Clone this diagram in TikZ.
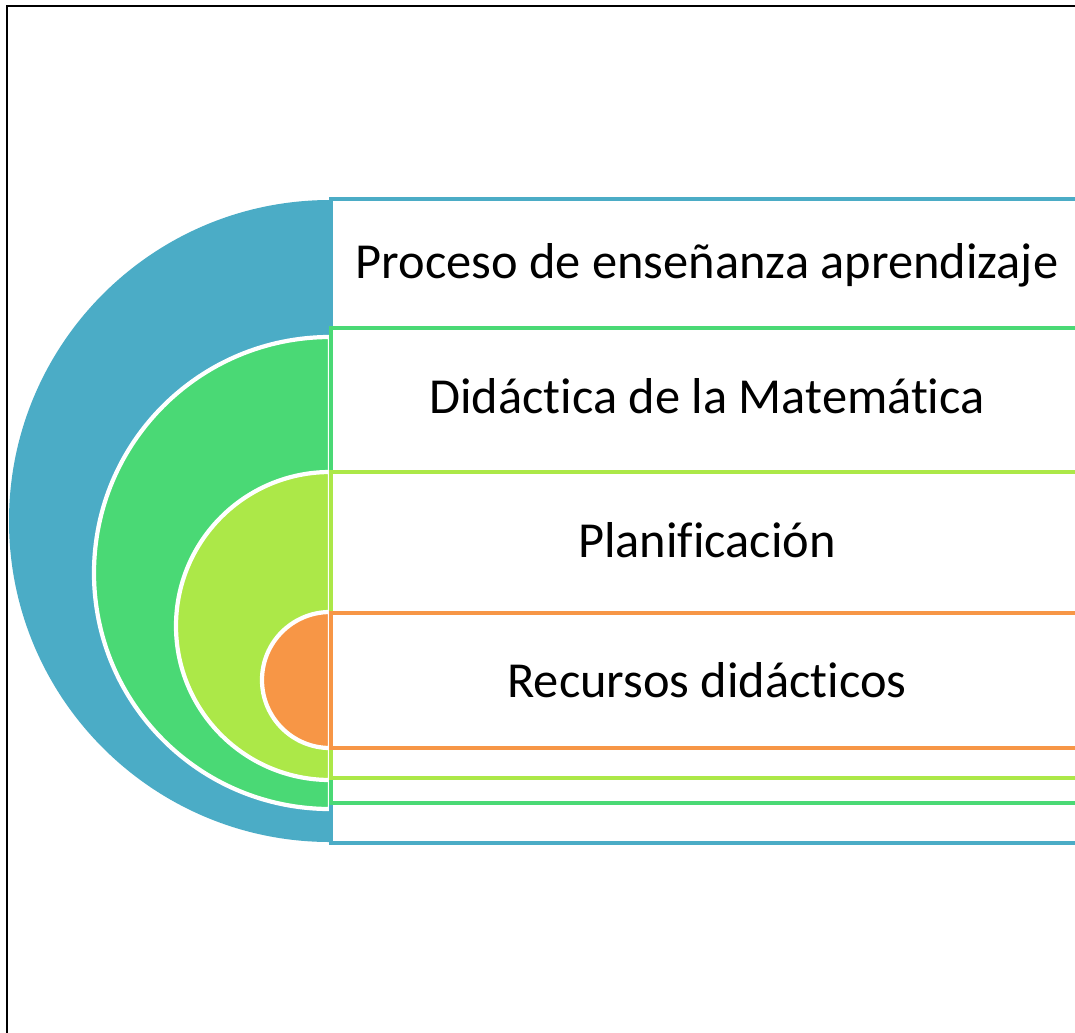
\documentclass[tikz,border=0pt]{standalone}
\usepackage{fontspec}
\setmainfont[Ligatures={NoCommon,NoRare,NoDiscretionary}]{Carlito}
\definecolor{cblue}{HTML}{4BACC6}
\definecolor{cgreen}{HTML}{4AD975}
\definecolor{clime}{HTML}{ACE848}
\definecolor{corange}{HTML}{F79646}
\tikzset{
  half/.style={line width=2.4pt, draw=white},
  band/.style={line width=2.3pt, fill=white},
  lbl/.style={font=\fontsize{28.7}{32}\selectfont, text=black, inner sep=0pt, anchor=center}
}
\begin{document}
\begin{tikzpicture}[x=0.02cm,y=-0.02cm]
\useasboundingbox (0,0) rectangle (1075,1032);
\clip (0,0) rectangle (1075,1032);
\fill[white] (0,0) rectangle (1075,1032);
% frame
\draw[line width=1.5pt, black] (7,1040) -- (7,6) -- (1080,6);
% half discs
\fill[cblue] (330,200) arc[start angle=-90, end angle=-270, radius=321] -- cycle;
\filldraw[half, fill=cgreen] (330,337) arc[start angle=-90, end angle=-270, radius=236] -- cycle;
\filldraw[half, fill=clime] (330,472) arc[start angle=-90, end angle=-270, radius=154] -- cycle;
\filldraw[half, fill=corange] (330,612) arc[start angle=-90, end angle=-270, radius=68] -- cycle;
% bands
\draw[band, draw=cblue] (331,199) rectangle (1084,843);
\draw[band, draw=cgreen] (331,328) rectangle (1084,803);
\draw[band, draw=clime] (331,472) rectangle (1084,778);
\draw[band, draw=corange] (331,613) rectangle (1084,748);
% labels
\node[lbl] (t1) at (707,265) {Proceso de enseñanza aprendizaje};
\node[lbl] (t2) at (707,396) {Didáctica de la Matemática};
\node[lbl] (t3) at (707,540) {Planificación};
\node[lbl] (t4) at (707,680) {Recursos didácticos};
\end{tikzpicture}
\end{document}
